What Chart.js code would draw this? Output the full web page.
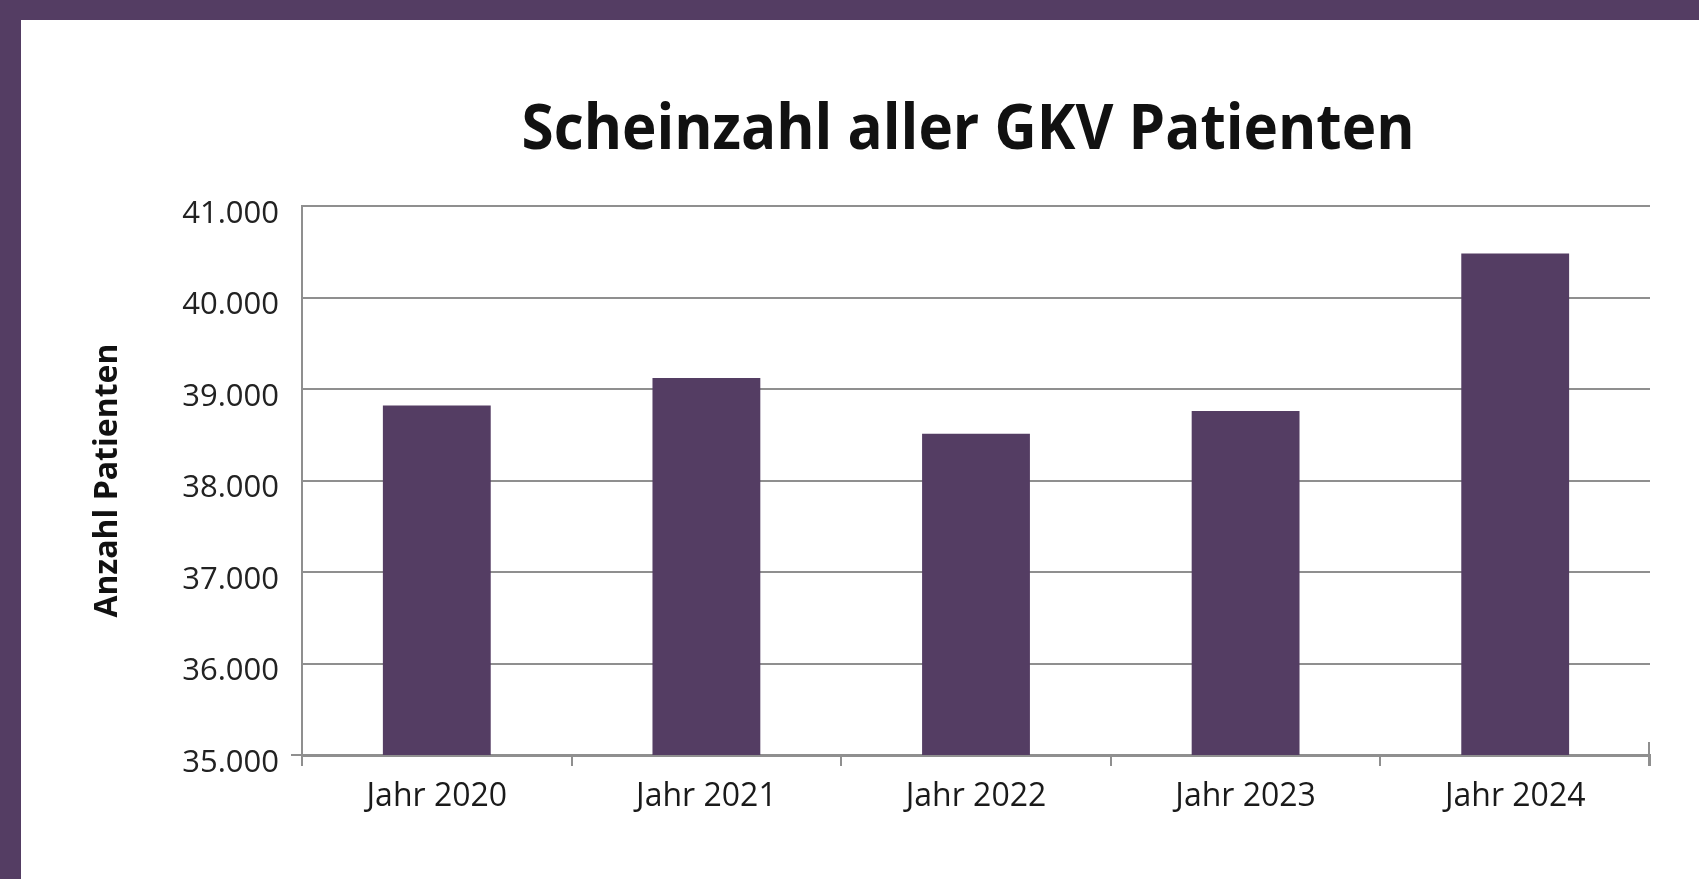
<!DOCTYPE html>
<html>
<head>
<meta charset="utf-8">
<script src="https://cdn.jsdelivr.net/npm/chart.js@4.4.1/dist/chart.umd.min.js"></script>
<style>
  html, body { margin: 0; padding: 0; background: #fff; overflow: hidden; }
  #frame {
    width: 1678px; height: 859px;
    border-top: 20px solid #543D63;
    border-left: 21px solid #543D63;
    background: #fff;
  }
  canvas { display: block; }
</style>
</head>
<body>
<div id="frame">
  <canvas id="chart" width="1678" height="859"></canvas>
</div>
<script>
// chart data
const chartTitle = 'Scheinzahl aller GKV Patienten';
const yAxisTitle = 'Anzahl Patienten';
const categories = ['Jahr 2020', 'Jahr 2021', 'Jahr 2022', 'Jahr 2023', 'Jahr 2024'];
const patientCounts = [38820, 39120, 38510, 38760, 40480];
const yMin = 35000;
const yMax = 41000;
const yStep = 1000;

const purple = '#543D63';
const gridGray = '#8f8f8f';

// german thousands separator, 41000 -> 41.000
function formatDE(v) {
  return String(v).replace(/\B(?=(\d{3})+(?!\d))/g, '.');
}

// title is drawn slightly condensed, like in the original
const condensedTitle = {
  id: 'condensedTitle',
  afterDraw(chart) {
    const ctx = chart.ctx;
    ctx.save();
    ctx.font = 'bold 62px "Open Sans"';
    ctx.fillStyle = '#111';
    ctx.textAlign = 'center';
    ctx.textBaseline = 'alphabetic';
    const w = ctx.measureText(chartTitle).width;
    const sx = 893 / w;
    ctx.translate(947, 129);
    ctx.scale(sx, 1);
    ctx.fillText(chartTitle, 0, 0);
    ctx.restore();
  }
};

// small tick at the right end of the x axis, reaching above the line
const axisEndTick = {
  id: 'axisEndTick',
  afterDraw(chart) {
    const x = chart.scales.x;
    const ctx = chart.ctx;
    ctx.save();
    ctx.strokeStyle = gridGray;
    ctx.lineWidth = 2;
    ctx.beginPath();
    ctx.moveTo(x.right - 1, x.top - 13);
    ctx.lineTo(x.right - 1, x.top + 11);
    ctx.stroke();
    ctx.restore();
  }
};

const ctx = document.getElementById('chart').getContext('2d');
new Chart(ctx, {
  type: 'bar',
  data: {
    labels: categories,
    datasets: [{
      label: yAxisTitle,
      data: patientCounts,
      backgroundColor: purple,
      borderWidth: 0,
      categoryPercentage: 1.0,
      barPercentage: 0.4
    }]
  },
  options: {
    responsive: false,
    animation: false,
    layout: { padding: { top: 186, right: 49, left: 0, bottom: 0 } },
    plugins: {
      legend: { display: false },
      tooltip: { enabled: false },
      title: { display: false }
    },
    scales: {
      x: {
        offset: true,
        grid: {
          offset: true,
          drawOnChartArea: false,
          drawTicks: true,
          tickLength: 11,
          color: gridGray,
          lineWidth: 2
        },
        border: { display: true, color: gridGray, width: 3 },
        ticks: {
          color: '#1a1a1a',
          font: { family: '"Open Sans"', size: 32 },
          padding: 12,
          maxRotation: 0
        },
        afterFit(scale) { scale.height = 124; }
      },
      y: {
        min: yMin,
        max: yMax,
        grid: {
          color: gridGray,
          lineWidth: 2,
          drawTicks: true,
          tickLength: 11,
          tickColor: c => (c.tick && c.tick.value === yMin) ? gridGray : 'rgba(0,0,0,0)'
        },
        border: { display: true, color: gridGray, width: 2 },
        ticks: {
          stepSize: yStep,
          color: '#222',
          font: { family: '"Open Sans"', size: 31 },
          padding: 12,
          labelOffset: 8,
          callback: v => formatDE(v)
        },
        title: {
          display: true,
          text: yAxisTitle,
          color: '#111',
          font: { family: '"Open Sans"', size: 32, weight: 'bold' },
          padding: { top: 68, bottom: 0 }
        },
        afterFit(scale) { scale.width = 281; }
      }
    }
  },
  plugins: [condensedTitle, axisEndTick]
});
</script>
</body>
</html>
